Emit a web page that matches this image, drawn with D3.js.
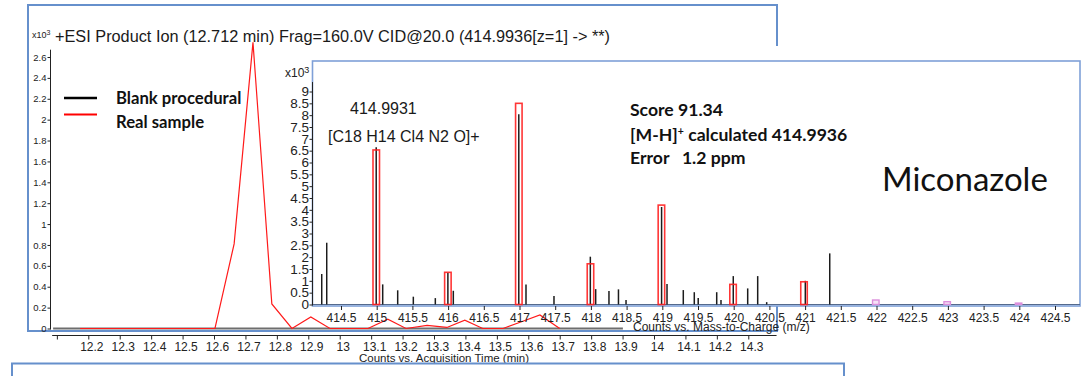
<!DOCTYPE html>
<html>
<head>
<meta charset="utf-8">
<script src="https://cdn.jsdelivr.net/npm/d3@7"></script>
<style>
  body { margin: 0; background: #fff; }
  svg { display: block; font-family: "Liberation Sans", Arial, sans-serif; }
  .axis text { fill: #222; }
  .axis line { stroke: #222; }
  .bold { font-family: Lato, "Noto Sans", sans-serif; font-weight: 700; fill: #111; }
</style>
</head>
<body>
<svg id="chart" width="1088" height="376"></svg>
<script>
// ---- Extracted ion chromatogram (retention time, min / counts x10^3) ----
const sampleTimes  = [12.174, 12.235, 12.296, 12.357, 12.418, 12.479, 12.540, 12.603, 12.664, 12.724,
                      12.784, 12.848, 12.908, 12.969, 13.030, 13.090, 13.153, 13.211, 13.278, 13.341,
                      13.398, 13.455, 13.520, 13.574, 13.637, 13.700];
const sampleCounts = [0, 0, 0, 0, 0, 0, 0, 0, 0.81, 2.74,
                      0.235, 0, 0.11, 0, 0, 0, 0.09, 0, 0.03, 0.01,
                      0.08, 0, 0, 0.06, 0.13, 0];
const blankTimes   = [12.088, 12.148, 12.209, 12.269, 12.330, 12.390, 12.451, 12.511, 12.572, 12.632,
                      12.693, 12.753, 12.814, 12.874, 12.935, 12.995, 13.056, 13.116, 13.177, 13.237,
                      13.298, 13.358, 13.419, 13.479, 13.540, 13.600, 13.661, 13.721, 13.782, 13.842, 13.901];
const blankCounts  = [0, 0, 0, 0, 0, 0, 0, 0, 0, 0,
                      0, 0, 0, 0, 0, 0, 0, 0, 0, 0,
                      0, 0, 0, 0, 0, 0, 0, 0, 0, 0, 0];
const timeTicks    = [12.1, 12.2, 12.3, 12.4, 12.5, 12.6, 12.7, 12.8, 12.9, 13.0, 13.1, 13.2,
                      13.3, 13.4, 13.5, 13.6, 13.7, 13.8, 13.9, 14.0, 14.1, 14.2, 14.3];
const countTicks   = [0, 0.2, 0.4, 0.6, 0.8, 1, 1.2, 1.4, 1.6, 1.8, 2, 2.2, 2.4, 2.6];

// ---- Product ion spectrum at 12.712 min (m/z / counts) ----
const peakMz     = [414.230, 414.300, 414.9931, 415.084, 415.294, 415.513, 415.821, 415.997, 416.073, 416.990,
                    417.091, 417.483, 417.992, 418.067, 418.253, 418.386, 418.492, 418.990, 419.066, 419.294,
                    419.448, 419.503, 419.762, 419.822, 419.994, 420.196, 420.336, 420.462, 421.003, 421.345];
const peakCounts = [1.29, 2.61, 6.64, 0.85, 0.60, 0.33, 0.27, 1.34, 0.58, 8.04,
                    0.85, 0.36, 2.02, 0.65, 0.57, 0.64, 0.19, 4.12, 0.87, 0.61,
                    0.52, 0.27, 0.52, 0.19, 1.20, 0.68, 1.20, 0.10, 1.00, 2.16];
// Calculated isotope pattern for C18H14Cl4N2O
const isoMz      = [414.9936, 415.9969, 416.9906, 417.9940, 418.9877, 419.9910, 420.9847];
const isoCounts  = [6.53, 1.36, 8.50, 1.72, 4.20, 0.85, 0.96];
const isoTailMz     = [421.990, 422.990, 423.990];
const isoTailCounts = [0.19, 0.12, 0.06];
const mzTicks    = [414.5, 415, 415.5, 416, 416.5, 417, 417.5, 418, 418.5, 419, 419.5,
                    420, 420.5, 421, 421.5, 422, 422.5, 423, 423.5, 424, 424.5];
const specTicks  = [0, 0.5, 1, 1.5, 2, 2.5, 3, 3.5, 4, 4.5, 5, 5.5, 6, 6.5, 7, 7.5, 8, 8.5, 9];

const legendItems = [
  { label: "Blank procedural", color: "#000" },
  { label: "Real sample", color: "#ff0000" }
];

const svg = d3.select("#chart");
const frameBlue = "#6690cc";

// ================= Chromatogram =================
const xT = d3.scaleLinear().domain([12.2, 14.0]).range([88.3, 654]);
const yC = d3.scaleLinear().domain([0, 2.6]).range([328.5, 57]);

svg.append("rect")
  .attr("x", 28).attr("y", 5).attr("width", 749).attr("height", 326)
  .attr("fill", "none").attr("stroke", frameBlue).attr("stroke-width", 2);

// y axis
const yAxisC = svg.append("g").attr("class", "axis")
  .attr("transform", "translate(50.5,0)")
  .call(d3.axisLeft(yC).tickValues(countTicks).tickSize(3).tickPadding(1)
    .tickFormat(d => String(+d.toFixed(1))));
yAxisC.select(".domain").remove();
yAxisC.selectAll("text").attr("font-size", 9.5).attr("font-family", "Liberation Sans, Arial, sans-serif");
yAxisC.append("line").attr("y1", yC(2.67)).attr("y2", yC(0) + 1).attr("stroke", "#222");

// x axis
const xAxisC = svg.append("g").attr("class", "axis")
  .attr("transform", "translate(0,335.5)")
  .call(d3.axisBottom(xT).tickValues(timeTicks).tickSize(4).tickPadding(3)
    .tickFormat(d => d === 12.1 ? "" : String(+d.toFixed(1))));
xAxisC.select(".domain").remove();
xAxisC.selectAll("text").attr("font-size", 12).attr("dx", 3).attr("font-family", "Liberation Sans, Arial, sans-serif");
xAxisC.append("line").attr("x1", xT(12.085)).attr("x2", xT(14.39)).attr("stroke", "#222");

const lineC = d3.line().x(d => xT(d[0])).y(d => yC(d[1]));

svg.append("path")
  .datum(d3.zip(blankTimes, blankCounts))
  .attr("d", lineC).attr("fill", "none").attr("stroke", "#6e6e6e").attr("stroke-width", 2);
svg.append("path")
  .datum(d3.zip(sampleTimes, sampleCounts))
  .attr("d", lineC).attr("fill", "none").attr("stroke", "#ff1a1a").attr("stroke-width", 1.2)
  .attr("stroke-linejoin", "miter");

// title
const title = svg.append("text").attr("x", 32).attr("y", 37.5).attr("fill", "#222");
title.append("tspan").attr("font-size", 9).text("x10");
title.append("tspan").attr("font-size", 7).attr("dy", -3).text("3");
svg.append("text").attr("x", 55).attr("y", 42).attr("font-size", 16.3).attr("fill", "#1a1a1a")
  .text("+ESI Product Ion (12.712 min) Frag=160.0V CID@20.0 (414.9936[z=1] -> **)");

// legend
const lg = svg.append("g");
legendItems.forEach((it, i) => {
  const y = 98 + i * 16.5;
  lg.append("line").attr("x1", 64).attr("x2", 97).attr("y1", y).attr("y2", y)
    .attr("stroke", it.color).attr("stroke-width", i === 0 ? 2.6 : 2);
  lg.append("text").attr("class", "bold").attr("x", 116).attr("y", y + 5.5 + i * 7.5)
    .attr("font-size", 16.7).text(it.label);
});

// axis title
svg.append("text").attr("x", 444).attr("y", 362).attr("text-anchor", "middle")
  .attr("font-size", 11.5).attr("fill", "#222").text("Counts vs. Acquisition Time (min)");

// lower frame
svg.append("path")
  .attr("d", "M12,380 V363.5 H844 V380")
  .attr("fill", "none").attr("stroke", frameBlue).attr("stroke-width", 2);

// ================= Spectrum panel =================
const xM = d3.scaleLinear().domain([415, 424]).range([376.7, 376.7 + 9 * 71.4]);
const yM = d3.scaleLinear().domain([0, 9]).range([304.5, 91.5]);

// white panel with frame
svg.append("rect").attr("x", 312).attr("y", 46).attr("width", 771).attr("height", 260)
  .attr("fill", "#fff");
svg.append("rect").attr("x", 312.5).attr("y", 61).attr("width", 767.5).attr("height", 245)
  .attr("fill", "none").attr("stroke", "#7fa0d8").attr("stroke-width", 1.6);

// y axis
const yAxisM = svg.append("g").attr("class", "axis")
  .attr("transform", "translate(312.5,0)")
  .call(d3.axisLeft(yM).tickValues(specTicks).tickSize(3).tickPadding(0.5)
    .tickFormat(d => String(d)));
yAxisM.select(".domain").remove();
yAxisM.selectAll("text").attr("font-size", 13.5).attr("font-family", "Liberation Sans, Arial, sans-serif");
yAxisM.append("line").attr("y1", yM(9.4)).attr("y2", yM(0) + 1).attr("stroke", "#222");

const yl = svg.append("text").attr("x", 285).attr("y", 77).attr("fill", "#222");
yl.append("tspan").attr("font-size", 12).text("x10");
yl.append("tspan").attr("font-size", 9).attr("dy", -4).text("3");

// x axis
const xAxisM = svg.append("g").attr("class", "axis")
  .attr("transform", "translate(0,306)")
  .call(d3.axisBottom(xM).tickValues(mzTicks).tickSize(4).tickPadding(3)
    .tickFormat(d => String(d)));
xAxisM.select(".domain").remove();
xAxisM.selectAll("text").attr("font-size", 12).attr("font-family", "Liberation Sans, Arial, sans-serif");
svg.append("line").attr("x1", 313).attr("x2", 1080).attr("y1", yM(0)).attr("y2", yM(0))
  .attr("stroke", "#556a8c").attr("stroke-width", 1);

// measured peaks
svg.append("g").selectAll("line")
  .data(d3.zip(peakMz, peakCounts))
  .join("line")
  .attr("x1", d => xM(d[0])).attr("x2", d => xM(d[0]))
  .attr("y1", yM(0)).attr("y2", d => yM(d[1]))
  .attr("stroke", "#1c1c1c").attr("stroke-width", 1.5);

// calculated isotope boxes
const boxW = 6.5;
svg.append("g").selectAll("rect")
  .data(d3.zip(isoMz, isoCounts))
  .join("rect")
  .attr("x", d => xM(d[0]) - boxW / 2).attr("width", boxW)
  .attr("y", d => yM(d[1])).attr("height", d => yM(0) - yM(d[1]))
  .attr("fill", "none").attr("stroke", "#ff2020").attr("stroke-width", 1.6).attr("stroke-opacity", 0.9);
svg.append("g").selectAll("rect")
  .data(d3.zip(isoTailMz, isoTailCounts))
  .join("rect")
  .attr("x", d => xM(d[0]) - boxW / 2).attr("width", boxW)
  .attr("y", d => yM(d[1])).attr("height", d => yM(0) - yM(d[1]))
  .attr("fill", "#f6e2f6").attr("stroke", "#dc8fdc").attr("stroke-width", 1.4);

// annotations
svg.append("text").attr("x", 350).attr("y", 114).attr("font-size", 16).attr("fill", "#1a1a1a").text("414.9931");
svg.append("text").attr("x", 328).attr("y", 142).attr("font-size", 16).attr("fill", "#1a1a1a").text("[C18 H14 Cl4 N2 O]+");

svg.append("text").attr("class", "bold").attr("x", 630).attr("y", 116).attr("font-size", 17.6).text("Score 91.34");
const mh = svg.append("text").attr("class", "bold").attr("x", 630).attr("y", 141).attr("font-size", 17.6);
mh.append("tspan").text("[M-H]");
mh.append("tspan").attr("font-size", 10.5).attr("dy", -6.5).text("+");
mh.append("tspan").attr("dy", 6.5).text(" calculated 414.9936");
svg.append("text").attr("class", "bold").attr("x", 630).attr("y", 164).attr("font-size", 17.6)
  .attr("xml:space", "preserve").style("white-space", "pre").text("Error   1.2 ppm");

svg.append("text").attr("x", 882).attr("y", 191).attr("font-size", 33)
  .attr("font-family", "Lato, 'Noto Sans', sans-serif").attr("fill", "#111").text("Miconazole");

svg.append("text").attr("x", 633).attr("y", 331).attr("font-size", 12).attr("fill", "#222")
  .text("Counts vs. Mass-to-Charge (m/z)");
</script>
</body>
</html>
